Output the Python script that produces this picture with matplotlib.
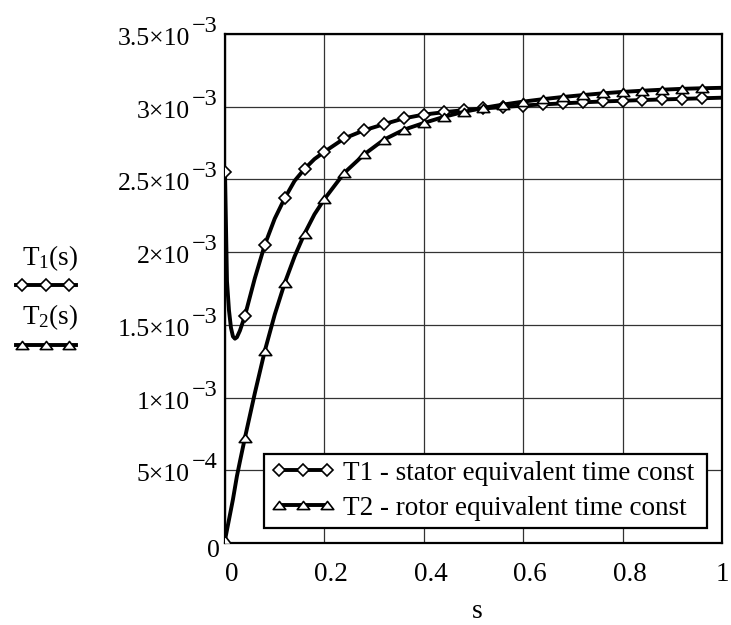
import numpy as np
import matplotlib
matplotlib.use("Agg")
import matplotlib.pyplot as plt
from matplotlib.lines import Line2D
from matplotlib.path import Path
import matplotlib.transforms as mtransforms

# ---------------- data ----------------
s_vals = [0.0, 0.004, 0.008, 0.012, 0.016, 0.02, 0.024, 0.03, 0.04, 0.06, 0.08,
          0.10, 0.12, 0.14, 0.16, 0.18, 0.20, 0.24, 0.28, 0.32, 0.36, 0.40,
          0.44, 0.48, 0.52, 0.56, 0.60, 0.64, 0.68, 0.72, 0.76, 0.80, 0.84,
          0.88, 0.92, 0.96, 1.00]
T1_ms = [2.554, 1.80, 1.60, 1.48, 1.42, 1.405, 1.415, 1.46, 1.561, 1.82, 2.05,
         2.23, 2.37, 2.49, 2.572, 2.64, 2.690, 2.782, 2.838, 2.880, 2.920, 2.946,
         2.962, 2.976, 2.988, 2.998, 3.008, 3.016, 3.023, 3.030, 3.036, 3.041,
         3.046, 3.050, 3.054, 3.058, 3.062]
T2_ms = [0.02, 0.09, 0.16, 0.23, 0.30, 0.38, 0.46, 0.56, 0.722, 1.03, 1.32,
         1.57, 1.786, 1.97, 2.127, 2.26, 2.365, 2.545, 2.672, 2.774, 2.842, 2.888,
         2.930, 2.964, 2.992, 3.015, 3.035, 3.052, 3.067, 3.080, 3.092, 3.102,
         3.110, 3.117, 3.123, 3.127, 3.130]
symbol_s = [0.0, 0.04, 0.08, 0.12, 0.16, 0.20, 0.24, 0.28, 0.32, 0.36, 0.40, 0.44,
            0.48, 0.52, 0.56, 0.60, 0.64, 0.68, 0.72, 0.76, 0.80, 0.84, 0.88,
            0.92, 0.96]

xtick_vals = [0, 0.2, 0.4, 0.6, 0.8, 1.0]
xtick_labels = ["0", "0.2", "0.4", "0.6", "0.8", "1"]
ytick_vals = [0, 0.5e-3, 1.0e-3, 1.5e-3, 2.0e-3, 2.5e-3, 3.0e-3, 3.5e-3]
ytick_mant = ["0", "5×10", "1×10", "1.5×10", "2×10", "2.5×10", "3×10", "3.5×10"]
ytick_exp = ["", "\u22124", "\u22123", "\u22123", "\u22123", "\u22123",
             "\u22123", "\u22123"]
legend_labels = ["T1 - stator equivalent time const",
                 "T2 - rotor equivalent time const"]

# ---------------- style ----------------
plt.rcParams["font.family"] = ["Liberation Serif", "DejaVu Serif"]
plt.rcParams["mathtext.fontset"] = "custom"
plt.rcParams["mathtext.rm"] = "Liberation Serif"
plt.rcParams["mathtext.it"] = "Liberation Serif:italic"
plt.rcParams["mathtext.default"] = "regular"
plt.rcParams["mathtext.fallback"] = "stix"

s = np.array(s_vals)
T1 = np.array(T1_ms) * 1e-3
T2 = np.array(T2_ms) * 1e-3
mark_idx = [int(np.argmin(np.abs(s - v))) for v in symbol_s]

tri = Path([(0, 0.65), (-1, -0.65), (1, -0.65), (0, 0.65)],
           [Path.MOVETO, Path.LINETO, Path.LINETO, Path.CLOSEPOLY])

fig = plt.figure(figsize=(7.31, 6.25), dpi=100)
W, H = 731.0, 625.0
ax = fig.add_axes([225 / W, 1 - 543 / H, 497 / W, 509 / H])

lw = 2.8
common = dict(color="black", lw=lw, markerfacecolor="white",
              markeredgecolor="black", markeredgewidth=1.2, zorder=3)
l1, = ax.plot(s, T1, marker="D", markersize=6.5, markevery=mark_idx,
              label=legend_labels[0], **common)
l2, = ax.plot(s, T2, marker=tri, markersize=9, markevery=mark_idx,
              label=legend_labels[1], **common)

ax.set_xlim(0, 1)
ax.set_ylim(0, 3.5e-3)
ax.set_xticks(xtick_vals)
ax.set_xticklabels(xtick_labels, fontsize=19.5)
ax.set_yticks(ytick_vals)
ax.set_yticklabels([""] * len(ytick_vals))
ax.tick_params(axis="both", length=0)
ax.tick_params(axis="x", pad=14)
ax.grid(True, color="#333333", lw=0.9, zorder=1)
for sp in ax.spines.values():
    sp.set_linewidth(1.6)
    sp.set_color("black")

xlabs = ax.get_xticklabels()
for i, lab in enumerate(xlabs):
    dx = 7 if i < len(xlabs) - 1 else 0
    lab.set_transform(lab.get_transform() +
                      mtransforms.ScaledTranslation(dx / 100, 0,
                                                    fig.dpi_scale_trans))

# Mathcad-style y tick labels: mantissa + raised full-size exponent
ytrans = ax.get_yaxis_transform()
def off(dx, dy):
    return ytrans + mtransforms.ScaledTranslation(dx / 100, dy / 100,
                                                  fig.dpi_scale_trans)
for v, m, e in zip(ytick_vals, ytick_mant, ytick_exp):
    if e:
        ax.text(0, v, m, transform=off(-35, -11), ha="right", va="baseline",
                fontsize=18.5, clip_on=False)
        ax.text(0, v, e, transform=off(-33, 2), ha="left", va="baseline",
                fontsize=17.5, clip_on=False)
    else:
        ax.text(0, v, m, transform=off(-5, -14), ha="right", va="baseline",
                fontsize=18.5, clip_on=False)

leg = ax.legend(handles=[l1, l2], loc="lower left",
                bbox_to_anchor=(0.079, 0.030, 0.890, 0.14), mode="expand",
                borderaxespad=0, fontsize=19.5, numpoints=3,
                handlelength=2.35, handletextpad=0.3, borderpad=0.25,
                labelspacing=0.37, fancybox=False, framealpha=1,
                edgecolor="black")
leg.get_frame().set_linewidth(1.6)
leg.set_zorder(5)

# x-axis label
fig.text(477 / W, 1 - 612 / H, "s", fontsize=20, ha="center", va="center")

# left-side trace labels (Mathcad style)
fig.text(22 / W, 1 - 265 / H, r"T$_1$(s)", fontsize=19.5, ha="left",
         va="baseline")
fig.text(22 / W, 1 - 324 / H, r"T$_2$(s)", fontsize=19.5, ha="left",
         va="baseline")
for yy, mk, ms in [(285, "D", 6.5), (345, tri, 9)]:
    fig.add_artist(Line2D([16 / W, 76 / W], [1 - yy / H] * 2, color="black",
                          lw=lw, transform=fig.transFigure))
    fig.add_artist(Line2D([22 / W, 45.5 / W, 68.5 / W], [1 - yy / H] * 3,
                          ls="none", marker=mk, markersize=ms,
                          markerfacecolor="white", markeredgecolor="black",
                          markeredgewidth=1.2, transform=fig.transFigure))

fig.savefig("out.png", dpi=100)
